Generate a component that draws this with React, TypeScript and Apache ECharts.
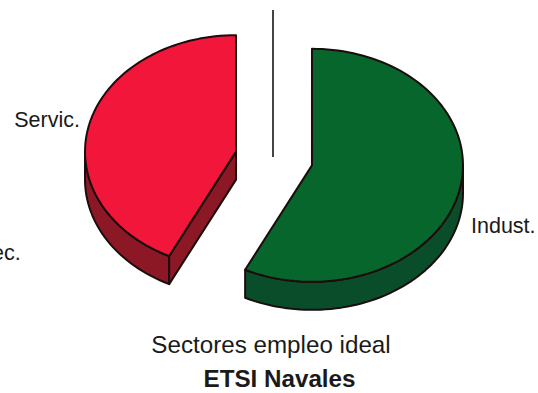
import React, { useEffect, useRef } from "react";
import * as echarts from "echarts";

const categories = ["Indust.", "Servic.", "ec."];
const values = [57.3, 42.7, 0];
const topColors = ["#07662b", "#f2163a", "#444444"];
const sideColors = ["#0a4d2a", "#8c1826", "#444444"];
const titleLine1 = "Sectores empleo ideal";
const titleLine2 = "ETSI Navales";

const CX = 274, CY = 158.5, RX = 151, RY = 116.5, DEPTH = 28, EXPLODE = 39;
const EDGE = "#1c0d0d";
const labelPlacement: Record<string, [number, number, string]> = {
  "Indust.": [471, 226, "left"],
  "Servic.": [80, 120, "right"],
  "ec.": [-8, 253, "left"],
};

const total = values.reduce((a, b) => a + b, 0);

function renderItem(params: any, api: any) {
  const i = params.dataIndex;
  const v = api.value(0);
  const before = values.slice(0, i).reduce((a, b) => a + b, 0);
  const a0 = (before / total) * 360;
  const a1 = ((before + v) / total) * 360;
  const name = categories[i];
  const [lx, ly, align] = labelPlacement[name];
  const children: any[] = [];
  const rad = (d: number) => (d * Math.PI) / 180;

  if (v === 0) {
    children.push({
      type: "line",
      shape: { x1: CX - 1, y1: CY - 1.5, x2: CX - 1, y2: CY - 148.5 },
      style: { stroke: topColors[i], lineWidth: 2 },
    });
  } else {
    const mid = rad((a0 + a1) / 2);
    const cx = CX + EXPLODE * Math.sin(mid);
    const cy = CY - EXPLODE * Math.cos(mid) * (RY / RX);
    const rim = (d: number, dy = 0): [number, number] => [
      cx + RX * Math.sin(rad(d)),
      cy - RY * Math.cos(rad(d)) + dy,
    ];
    const arc = (from: number, to: number, dy = 0) => {
      const pts: [number, number][] = [];
      const n = Math.max(2, Math.ceil(Math.abs(to - from) / 2));
      for (let k = 0; k <= n; k++) pts.push(rim(from + ((to - from) * k) / n, dy));
      return pts;
    };
    const base = { stroke: EDGE, lineWidth: 2, lineJoin: "round" };
    const wa = Math.max(a0, 90);
    const wb = Math.min(a1, 270);
    if (wb > wa) {
      children.push({
        type: "polygon",
        shape: { points: [...arc(wa, wb), ...arc(wb, wa, DEPTH)] },
        style: { ...base, fill: sideColors[i] },
      });
    }
    const face = (d: number) => ({
      type: "polygon",
      shape: { points: [[cx, cy], rim(d), rim(d, DEPTH), [cx, cy + DEPTH]] },
      style: { ...base, fill: sideColors[i] },
    });
    if (Math.sin(rad(a0)) < -1e-6) children.push(face(a0));
    if (Math.sin(rad(a1)) > 1e-6) children.push(face(a1));
    children.push({
      type: "polygon",
      shape: { points: [[cx, cy], ...arc(a0, a1)] },
      style: { ...base, fill: topColors[i] },
    });
  }
  children.push({
    type: "text",
    style: {
      text: name,
      x: lx,
      y: ly,
      fill: "#1a1a1a",
      font: '21.5px "Liberation Sans", Arial, sans-serif',
      textAlign: align,
      textVerticalAlign: "middle",
    },
  });
  return { type: "group", children };
}

export default function App() {
  const ref = useRef<HTMLDivElement>(null);
  useEffect(() => {
    document.body.style.margin = "0";
    const chart = echarts.init(ref.current!, null, { renderer: "svg" });
    chart.setOption({
      animation: false,
      backgroundColor: "#ffffff",
      title: [
        {
          text: titleLine1,
          left: 266,
          top: 327,
          textAlign: "center",
          textStyle: { fontFamily: '"Liberation Sans", Arial, sans-serif', fontSize: 24.2, fontWeight: "normal", color: "#1a1a1a" },
        },
        {
          text: titleLine2,
          left: 274.5,
          top: 361,
          textAlign: "center",
          textStyle: { fontFamily: '"Liberation Sans", Arial, sans-serif', fontSize: 24.2, fontWeight: "bold", color: "#1a1a1a" },
        },
      ],
      series: [
        {
          type: "custom",
          coordinateSystem: "none",
          renderItem,
          silent: true,
          data: categories.map((n, i) => ({ name: n, value: [values[i]] })),
        },
      ],
    });
    return () => chart.dispose();
  }, []);
  return <div ref={ref} style={{ width: 538, height: 393 }} />;
}
